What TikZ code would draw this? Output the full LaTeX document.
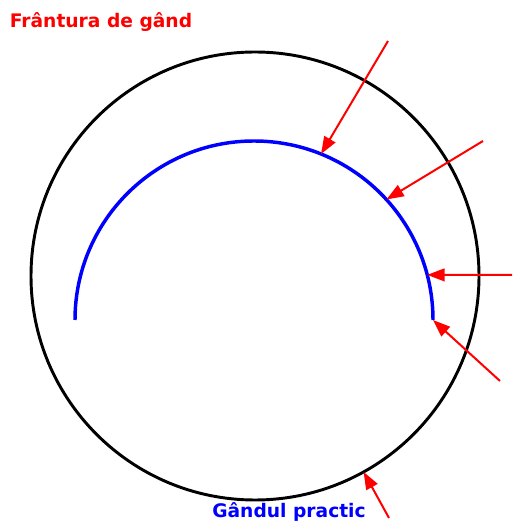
\documentclass[tikz,border=0pt]{standalone}
\usepackage{fontspec}
\setmainfont{DejaVu Sans}
\usetikzlibrary{arrows.meta}
\begin{document}
\begin{tikzpicture}[x=0.75pt,y=0.75pt,
  ring/.style={black,line width=2.2pt},
  thought/.style={blue,line width=2.6pt},
  hit/.style={red,line width=1.5pt,-{Triangle[length=13pt,width=9.5pt]}},
  caption/.style={font=\fontsize{14}{16}\selectfont\bfseries}]
\useasboundingbox (0,0) rectangle (512,524);

\coordinate (c) at (255,248);
\coordinate (m) at (254,204);
\draw[ring] (c) circle[radius=224];
\draw[thought] ([shift={(180:179)}]m) arc[start angle=180,end angle=0,radius=179];

\coordinate (t1) at ([shift={(68:179)}]m);
\coordinate (t2) at ([shift={(42.3:179)}]m);
\coordinate (t3) at ([shift={(14.6:179)}]m);
\coordinate (t4) at ([shift={(0:179)}]m);
\coordinate (t5) at ([shift={(-61:224)}]c);
\coordinate (s1) at (388,483);
\coordinate (s2) at (483,383);
\coordinate (s3) at (512,249);
\coordinate (s4) at (500,143);
\coordinate (s5) at (389,6);

\draw[hit] (s1) -- (t1);
\draw[hit] (s2) -- (t2);
\draw[hit] (s3) -- (t3);
\draw[hit] (s4) -- (t4);
\draw[hit] (s5) -- (t5);

\node[caption,red] (frantura) at (101,502) {Frântura de gând};
\node[caption,blue] (gandul) at (289,12) {Gândul practic};
\end{tikzpicture}
\end{document}
